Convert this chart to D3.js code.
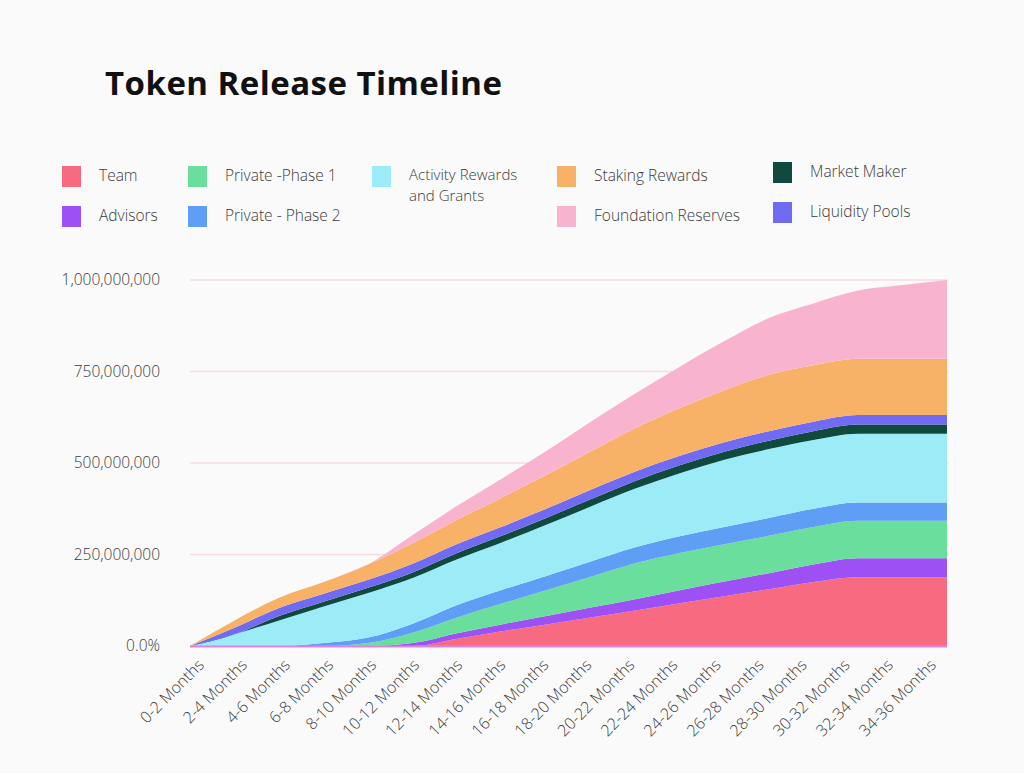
<!DOCTYPE html>
<html>
<head>
<meta charset="utf-8">
<script src="https://cdn.jsdelivr.net/npm/d3@7"></script>
<style>
  body { margin: 0; background: #fafafa; }
  svg { display: block; font-family: "Open Sans", Lato, sans-serif; }
</style>
</head>
<body>
<div id="chart"></div>
<script>
// values in millions of tokens, cumulative unlocked per period
var UNIT = 1e6;
var months = ["0-2 Months", "2-4 Months", "4-6 Months", "6-8 Months", "8-10 Months",
  "10-12 Months", "12-14 Months", "14-16 Months", "16-18 Months", "18-20 Months",
  "20-22 Months", "22-24 Months", "24-26 Months", "26-28 Months", "28-30 Months",
  "30-32 Months", "32-34 Months", "34-36 Months"];

var team        = [0, 0, 0, 0, 0, 0, 20, 40, 59, 78, 97, 117, 136, 155, 175, 188, 188, 188];
var advisors    = [0, 0, 0, 0, 0, 8, 15, 19, 23, 27, 31, 35, 40, 44, 48, 52, 52, 52];
var private1    = [0, 0, 0, 0, 8, 28, 43, 57, 70, 84, 98, 102, 102, 102, 102, 102, 102, 102];
var private2    = [0, 0, 0, 8, 15, 25, 34, 37, 39, 42, 44, 46, 47, 49, 50, 50, 50, 50];
var activity    = [0, 32, 70, 100, 122, 125, 125, 130, 140, 150, 160, 172, 184, 188, 188, 188, 188, 188];
var marketMaker = [0, 0, 12, 13, 14, 15, 17, 18, 19, 20, 21, 22, 22, 23, 24, 25, 25, 25];
var liquidity   = [0, 18, 22, 22, 22, 24, 25, 25, 25, 26, 26, 26, 26, 26, 26, 26, 26, 26];
var staking     = [0, 20, 28, 32, 42, 56, 66, 79, 92, 105, 118, 130, 142, 154, 154, 154, 154, 154];
var foundation  = [0, 0, 0, 0, 0, 22, 38, 52, 66, 81, 95, 113, 134, 155, 169, 186, 201, 215];

var yTicks = [0, 250e6, 500e6, 750e6, 1000e6];

// stack order bottom -> top
var series = [
  { key: "team", values: team, color: "#f86a80" },
  { key: "advisors", values: advisors, color: "#9d50f3" },
  { key: "private1", values: private1, color: "#6ade9d" },
  { key: "private2", values: private2, color: "#5e9ef4" },
  { key: "activity", values: activity, color: "#9becf7" },
  { key: "marketMaker", values: marketMaker, color: "#10493e" },
  { key: "liquidity", values: liquidity, color: "#716bf3" },
  { key: "staking", values: staking, color: "#f8b267" },
  { key: "foundation", values: foundation, color: "#f8b4cf" }
];

var legendItems = [
  { key: "team", label: ["Team"], col: 0, row: 0 },
  { key: "advisors", label: ["Advisors"], col: 0, row: 1 },
  { key: "private1", label: ["Private -Phase 1"], col: 1, row: 0 },
  { key: "private2", label: ["Private - Phase 2"], col: 1, row: 1 },
  { key: "activity", label: ["Activity Rewards", "and Grants"], col: 2, row: 0 },
  { key: "staking", label: ["Staking Rewards"], col: 3, row: 0 },
  { key: "foundation", label: ["Foundation Reserves"], col: 3, row: 1 },
  { key: "marketMaker", label: ["Market Maker"], col: 4, row: 0 },
  { key: "liquidity", label: ["Liquidity Pools"], col: 4, row: 1 }
];

var W = 1024, H = 773;
var plot = { left: 190, right: 947, top: 280, bottom: 646 };

var svg = d3.select("#chart").append("svg")
  .attr("width", W).attr("height", H);

svg.append("rect").attr("width", W).attr("height", H).attr("fill", "#fafafa");

svg.append("text")
  .attr("x", 105).attr("y", 95)
  .attr("font-size", 33).attr("font-weight", 700)
  .attr("textLength", 397).attr("lengthAdjust", "spacing")
  .attr("fill", "#111")
  .text("Token Release Timeline");

var colorOf = {};
series.forEach(function(s) { colorOf[s.key] = s.color; });

// legend
var legendCols = [62, 188, 372, 557, 773];
var legendRows = [176, 216];
var lg = svg.append("g").attr("class", "legend");
legendItems.forEach(function(it) {
  var lx = legendCols[it.col];
  var ly = legendRows[it.row] - (it.col === 4 ? 4 : 0);
  lg.append("rect")
    .attr("x", lx).attr("y", ly - 10)
    .attr("width", 19).attr("height", 21)
    .attr("fill", colorOf[it.key]);
  var multi = it.label.length > 1;
  it.label.forEach(function(line, j) {
    lg.append("text")
      .attr("x", lx + 37).attr("y", ly + 5 + (multi ? j * 21 - 1 : 0))
      .attr("font-size", multi ? 15 : 15.5).attr("font-weight", 300)
      .attr("fill", "#3a3a3a")
      .text(line);
  });
});

// data rows
var rows = months.map(function(m, i) {
  var r = { month: m };
  series.forEach(function(s) { r[s.key] = s.values[i] * UNIT; });
  return r;
});

var stack = d3.stack().keys(series.map(function(s) { return s.key; }));
var layers = stack(rows);

var x = d3.scalePoint().domain(months).range([plot.left, plot.right]);
var xLabel = x.copy().range([205, 937]);
var y = d3.scaleLinear().domain([0, 1e9]).range([plot.bottom, plot.top]);

// grid
svg.append("g").selectAll("line")
  .data(yTicks.filter(function(d) { return d > 0; }))
  .join("line")
  .attr("x1", plot.left).attr("x2", plot.right + 1)
  .attr("y1", function(d) { return y(d); })
  .attr("y2", function(d) { return y(d); })
  .attr("stroke", "#f7dbe3").attr("stroke-width", 1.5);

var area = d3.area()
  .x(function(d) { return x(d.data.month); })
  .y0(function(d) { return y(d[0]); })
  .y1(function(d) { return y(d[1]); })
  .curve(d3.curveMonotoneX);

svg.append("g").selectAll("path")
  .data(layers)
  .join("path")
  .attr("d", area)
  .attr("fill", function(d) { return colorOf[d.key]; });

// baseline
svg.append("line")
  .attr("x1", plot.left).attr("x2", plot.right)
  .attr("y1", y(0) + 0.5).attr("y2", y(0) + 0.5)
  .attr("stroke", "#de84dc").attr("stroke-width", 2);

// y axis labels
svg.append("g").selectAll("text")
  .data(yTicks)
  .join("text")
  .attr("x", 160)
  .attr("y", function(d) { return y(d) + 5; })
  .attr("text-anchor", "end")
  .attr("font-size", 15.5).attr("font-weight", 300)
  .attr("fill", "#3a3a3a")
  .text(function(d) { return d === 0 ? "0.0%" : d3.format(",")(d); });

// x axis labels
svg.append("g").selectAll("text")
  .data(months)
  .join("text")
  .attr("transform", function(d) { return "translate(" + xLabel(d) + "," + 666 + ") rotate(-45)"; })
  .attr("text-anchor", "end")
  .attr("font-size", 16).attr("font-weight", 300)
  .attr("fill", "#3a3a3a")
  .text(function(d) { return d; });
</script>
</body>
</html>
